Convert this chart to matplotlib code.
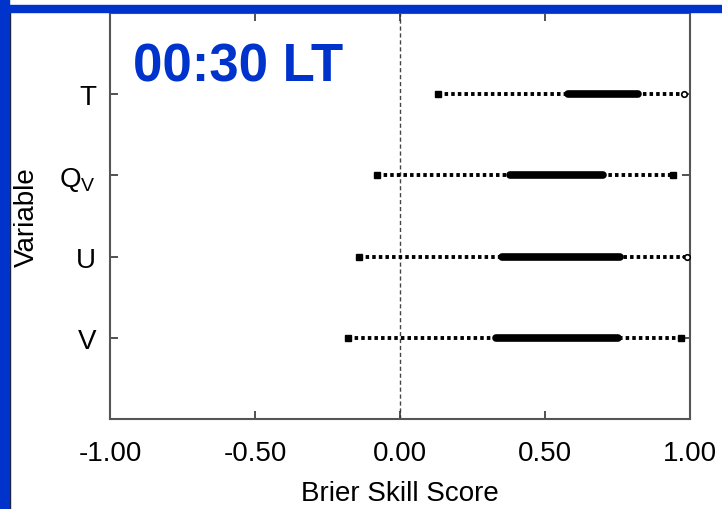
import matplotlib.pyplot as plt
from matplotlib.patches import Rectangle

plt.rcParams['font.family'] = ['Liberation Sans', 'DejaVu Sans']

# DATA
variables = ['T', r'Q$_\mathregular{V}$', 'U', 'V']
lo = [0.13, -0.08, -0.14, -0.18]       # whisker start
q1 = [0.58, 0.38, 0.35, 0.33]          # box start
q3 = [0.82, 0.70, 0.76, 0.75]          # box end
hi = [0.98, 0.94, 0.99, 0.97]          # whisker end
open_end = [True, False, True, False]
xticks = [-1.0, -0.5, 0.0, 0.5, 1.0]
title = '00:30 LT'

blue = '#0033cc'
ypos = [4, 3, 2, 1]

fig = plt.figure(figsize=(7.22, 5.1), dpi=100)
ax = fig.add_axes([110 / 722, 1 - 420 / 510, 580 / 722, 406 / 510])

ax.axvline(0, color='#444444', lw=1.0, ls=(0, (3, 2)), zorder=1)

for i, y in enumerate(ypos):
    ax.plot([lo[i], hi[i]], [y, y], color='black', lw=2.8,
            ls=(0, (0.9, 0.8)), solid_capstyle='butt', zorder=2)
    ax.plot([q1[i], q3[i]], [y, y], color='black', lw=5.5,
            solid_capstyle='round', zorder=3)
    ax.plot(lo[i], y, marker='s', ms=4.5, color='black', zorder=4)
    if open_end[i]:
        ax.plot(hi[i], y, marker='o', ms=4, mfc='white', mec='black',
                mew=1.2, zorder=4)
    else:
        ax.plot(hi[i], y, marker='s', ms=4.5, color='black', zorder=4)

ax.set_xlim(-1, 1)
ax.set_ylim(0, 5)
ax.set_xticks(xticks)
ax.set_xticklabels(['%.2f' % v for v in xticks], fontsize=20)
ax.set_yticks(ypos)
ax.set_yticklabels(variables, fontsize=20)
ax.tick_params(direction='in', length=6, width=1.2, color='#333333',
               top=True, right=True, pad=10)
ax.tick_params(axis='x', pad=15)
for s in ax.spines.values():
    s.set_color('#555555')
    s.set_linewidth(1.5)

ax.set_xlabel('Brier Skill Score', fontsize=20, labelpad=10)
ax.set_ylabel('Variable', fontsize=20, labelpad=14)

ax.text(0.04, (420 - 81) / 406, title, transform=ax.transAxes, color=blue,
        fontsize=38, fontweight='bold', va='baseline', ha='left')

# blue frame at top and left
fig.add_artist(Rectangle((0, 1 - 13 / 510), 1, 7 / 510,
                         transform=fig.transFigure, color=blue, zorder=10))
fig.add_artist(Rectangle((0, 0), 9 / 722, 1,
                         transform=fig.transFigure, color=blue, zorder=10))
fig.add_artist(plt.Line2D([10 / 722, 10 / 722], [0, 1 - 13 / 510],
                          transform=fig.transFigure, color='#222222', lw=1))

fig.savefig('out.png', dpi=100)
